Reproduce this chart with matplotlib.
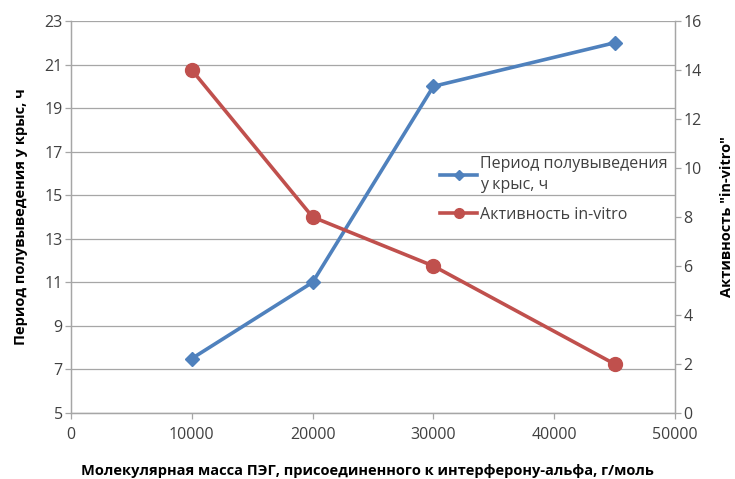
import matplotlib
matplotlib.use("Agg")
import matplotlib.pyplot as plt

plt.rcParams['font.family'] = ['Open Sans', 'DejaVu Sans']

mass = [10000, 20000, 30000, 45000]
half_life = [7.5, 11, 20, 22]
activity = [14, 8, 6, 2]

blue = '#4F81BD'
red = '#C0504D'
gray = '#A6A6A6'
tcol = '#404040'

fig = plt.figure(figsize=(7.35, 4.79), dpi=100)
ax = fig.add_axes([71/735, (479-413)/479, (675-71)/735, (413-21)/479])
ax2 = ax.twinx()

l1, = ax.plot(mass, half_life, color=blue, lw=2.6, marker='D', ms=7.5,
              label='Период полувыведения\nу крыс, ч', zorder=3)
l2, = ax2.plot(mass, activity, color=red, lw=2.6, marker='o', ms=10,
               label='Активность in-vitro', zorder=3)

ax.set_xlim(0, 50000)
ax.set_ylim(5, 23)
ax.set_yticks(range(5, 24, 2))
ax.set_xticks(range(0, 50001, 10000))
ax2.set_ylim(0, 16)
ax2.set_yticks(range(0, 17, 2))

ax.grid(axis='y', color=gray, lw=0.9)
ax.set_axisbelow(True)

for a in (ax, ax2):
    for s in a.spines.values():
        s.set_color(gray)
        s.set_linewidth(0.9)
    a.spines['top'].set_visible(False)
    a.tick_params(colors=gray, labelcolor=tcol, labelsize=11.5, length=4, width=0.9)
ax.tick_params(axis='x', pad=6)
ax.tick_params(axis='y', pad=2)
ax2.tick_params(axis='y', pad=2)

ax.set_ylabel('Период полувыведения у крыс, ч', fontsize=10.5, fontweight='bold', color='black', labelpad=12)
ax2.set_ylabel('Активность "in-vitro"', fontsize=10.5, fontweight='bold', color='black', labelpad=13)
fig.text(0.5, (479-471)/479, 'Молекулярная масса ПЭГ, присоединенного к интерферону-альфа, г/моль',
         ha='center', va='center', fontsize=10.5, fontweight='bold', color='black')

leg = ax.legend(handles=[l1, l2], loc='upper left', bbox_to_anchor=(434/735, (479-150)/479),
                bbox_transform=fig.transFigure, frameon=False, fontsize=11.5,
                handlelength=2.3, handletextpad=0.2, labelspacing=0.9, borderaxespad=0,
                markerscale=0.7)
for t in leg.get_texts():
    t.set_color(tcol)
    t.set_linespacing(1.35)

fig.savefig('out.png', dpi=100)
